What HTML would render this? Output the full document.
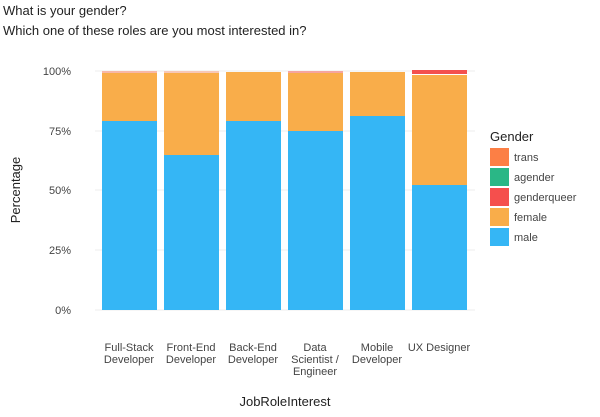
<!DOCTYPE html>
<html><head><style>
body{margin:0;background:#fff;}
svg text{font-family:"Liberation Sans",sans-serif;}
</style></head><body>
<svg width="600" height="412" xmlns="http://www.w3.org/2000/svg">
<rect width="600" height="412" fill="#fff"/>
<text x="3" y="15" font-size="13" fill="#222">What is your gender?</text>
<text x="3" y="35" font-size="13" fill="#222">Which one of these roles are you most interested in?</text>
<g stroke="#ececec" stroke-width="1">
<line x1="95" x2="475" y1="71" y2="71"/><line x1="95" x2="475" y1="131" y2="131"/>
<line x1="95" x2="475" y1="190" y2="190"/><line x1="95" x2="475" y1="250" y2="250"/>
<line x1="95" x2="475" y1="310" y2="310"/>
</g>
<g font-size="11" fill="#444" text-anchor="end">
<text x="71" y="75">100%</text><text x="71" y="135">75%</text><text x="71" y="194">50%</text><text x="71" y="254">25%</text><text x="71" y="314">0%</text>
</g>
<text transform="translate(20,190) rotate(-90)" font-size="13" fill="#222" text-anchor="middle">Percentage</text>
<g>
<rect x="102" y="71" width="55" height="2" fill="#f7b8a8"/><rect x="102" y="73" width="55" height="48" fill="#f9ad4a"/><rect x="102" y="121" width="55" height="189" fill="#35b6f5"/>
<rect x="164" y="71" width="55" height="2" fill="#f7c8b8"/><rect x="164" y="73" width="55" height="82" fill="#f9ad4a"/><rect x="164" y="155" width="55" height="155" fill="#35b6f5"/>
<rect x="226" y="72" width="55" height="49" fill="#f9ad4a"/><rect x="226" y="121" width="55" height="189" fill="#35b6f5"/>
<rect x="288" y="71" width="55" height="2" fill="#f5a5a0"/><rect x="288" y="73" width="55" height="58" fill="#f9ad4a"/><rect x="288" y="131" width="55" height="179" fill="#35b6f5"/>
<rect x="350" y="72" width="55" height="44" fill="#f9ad4a"/><rect x="350" y="116" width="55" height="194" fill="#35b6f5"/>
<rect x="412" y="70" width="55" height="4" fill="#f4504e"/><rect x="412" y="75" width="55" height="110" fill="#f9ad4a"/><rect x="412" y="185" width="55" height="125" fill="#35b6f5"/>
</g>
<g font-size="11" fill="#444" text-anchor="middle">
<text x="129" y="351">Full-Stack</text><text x="129" y="363">Developer</text>
<text x="191" y="351">Front-End</text><text x="191" y="363">Developer</text>
<text x="253" y="351">Back-End</text><text x="253" y="363">Developer</text>
<text x="315" y="351">Data</text><text x="315" y="363">Scientist /</text><text x="315" y="375">Engineer</text>
<text x="377" y="351">Mobile</text><text x="377" y="363">Developer</text>
<text x="439" y="351">UX Designer</text>
</g>
<text x="285" y="406" font-size="13" fill="#222" text-anchor="middle">JobRoleInterest</text>
<text x="490" y="141" font-size="13" fill="#222">Gender</text>
<rect x="490" y="148" width="19" height="18" fill="#fc7f45"/>
<rect x="490" y="168" width="19" height="18" fill="#2ab786"/>
<rect x="490" y="188" width="19" height="18" fill="#f54f4d"/>
<rect x="490" y="208" width="19" height="18" fill="#f9ad4a"/>
<rect x="490" y="228" width="19" height="18" fill="#35b6f5"/>
<g font-size="11" fill="#444">
<text x="514" y="161">trans</text><text x="514" y="181">agender</text><text x="514" y="201">genderqueer</text><text x="514" y="221">female</text><text x="514" y="241">male</text>
</g>
</svg>
</body></html>
